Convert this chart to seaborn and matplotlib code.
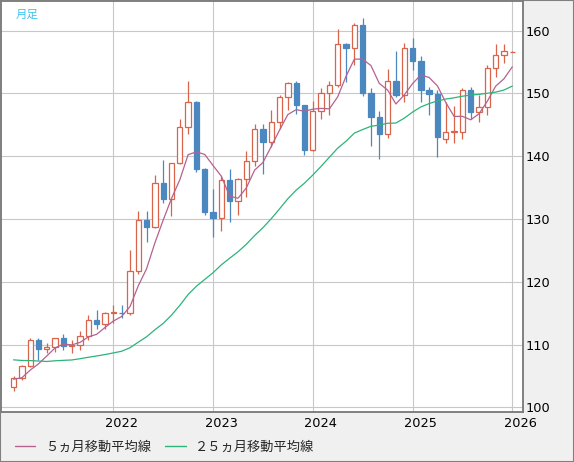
import numpy as np
import pandas as pd
import matplotlib
matplotlib.use("Agg")
import matplotlib.pyplot as plt
import matplotlib.transforms as mtransforms
from matplotlib.lines import Line2D
from matplotlib.patches import Rectangle
import seaborn as sns

# monthly candles, Jan 2021 .. Jan 2026
months = pd.period_range("2021-01", "2026-01", freq="M")

opens = [103.2, 104.7, 106.6, 110.7, 109.3, 109.6, 111.1, 109.7, 110.0, 111.3, 113.95, 113.2,
         115.1, 115.1, 115.0, 121.7, 129.8, 128.7, 135.7, 133.2, 138.9, 144.7, 148.7, 138.0,
         131.1, 130.1, 136.2, 132.8, 136.3, 139.3, 144.3, 142.3, 145.5, 149.4, 151.7, 148.2,
         141.0, 147.2, 150.0, 151.35, 157.8, 157.3, 160.9, 150.0, 146.2, 143.6, 152.0, 149.8,
         157.2, 155.2, 150.6, 149.9, 142.8, 143.9, 143.9, 150.6, 147.0, 147.8, 154.0, 156.05,
         156.6]
highs = [105.0, 106.7, 110.97, 110.96, 110.2, 111.1, 111.7, 110.8, 112.1, 114.7, 115.5, 115.2,
         116.35, 116.3, 125.1, 131.25, 131.35, 137.0, 139.4, 139.0, 145.9, 151.95, 148.8, 138.2,
         134.8, 136.9, 137.9, 136.6, 140.9, 145.1, 145.1, 147.4, 149.7, 151.9, 152.0, 148.2,
         148.8, 150.9, 151.97, 160.2, 158.0, 161.3, 161.95, 150.9, 147.2, 153.9, 156.75, 158.1,
         158.9, 155.9, 151.0, 150.5, 148.65, 148.0, 150.9, 151.0, 149.8, 154.6, 157.9, 157.9,
         156.7]
lows = [102.6, 104.4, 106.4, 107.5, 108.6, 108.8, 109.1, 108.7, 109.1, 110.8, 112.5, 112.5,
        113.5, 114.2, 114.65, 121.3, 126.4, 128.6, 132.5, 130.4, 138.8, 143.5, 137.5, 130.6,
        127.2, 128.1, 129.6, 130.6, 133.5, 138.4, 137.2, 141.5, 144.4, 147.3, 146.7, 140.25,
        140.8, 145.9, 146.5, 151.0, 151.9, 154.5, 149.6, 141.7, 139.6, 142.9, 149.4, 148.6,
        153.7, 148.6, 146.5, 139.9, 142.1, 142.1, 142.7, 146.0, 145.5, 146.5, 152.7, 154.8,
        156.6]
closes = [104.7, 106.6, 110.7, 109.3, 109.6, 111.1, 109.7, 110.0, 111.3, 113.95, 113.2, 115.1,
          115.2, 115.0, 121.7, 129.8, 128.7, 135.7, 133.2, 138.9, 144.7, 148.7, 138.0, 131.1,
          130.1, 136.2, 132.8, 136.3, 139.3, 144.3, 142.3, 145.5, 149.4, 151.7, 148.2, 141.0,
          147.2, 150.0, 151.35, 157.8, 157.3, 160.9, 150.0, 146.2, 143.6, 152.0, 149.8, 157.2,
          155.2, 150.6, 149.9, 143.1, 143.9, 144.0, 150.6, 147.0, 147.8, 154.0, 156.05, 156.7,
          156.65]

ma5 = [104.48, 104.70, 105.92, 106.92, 108.18, 109.46, 110.08, 109.94, 110.34, 111.21, 111.63, 112.71,
       113.73, 114.47, 116.02, 119.34, 122.06, 126.18, 129.82, 133.26, 136.24, 140.24, 140.70, 140.28,
       138.52, 136.82, 133.64, 133.30, 134.94, 137.78, 139.00, 141.54, 144.16, 146.64, 147.42, 147.16,
       147.50, 147.62, 147.55, 149.47, 152.73, 155.47, 155.47, 154.44, 151.60, 150.54, 148.32, 149.76,
       151.56, 152.96, 152.54, 151.20, 148.56, 146.34, 146.36, 145.80, 146.76, 148.76, 151.16, 152.34,
       154.24]
ma25 = [107.56, 107.46, 107.44, 107.37, 107.30, 107.41, 107.48, 107.54, 107.74, 107.97, 108.18, 108.40,
        108.66, 108.93, 109.48, 110.37, 111.23, 112.35, 113.36, 114.68, 116.23, 117.96, 119.29, 120.37,
        121.44, 122.70, 123.75, 124.77, 125.97, 127.36, 128.61, 130.04, 131.61, 133.23, 134.60, 135.71,
        137.00, 138.39, 139.85, 141.29, 142.39, 143.68, 144.25, 144.77, 144.96, 145.25, 145.29, 146.06,
        147.03, 147.85, 148.39, 148.81, 149.11, 149.31, 149.56, 149.75, 149.85, 150.03, 150.21, 150.55,
        151.17]

year_labels = ["2022", "2023", "2024", "2025", "2026"]
y_ticks = [100, 110, 120, 130, 140, 150, 160]

df = pd.DataFrame({"month": months.astype(str), "open": opens, "high": highs,
                   "low": lows, "close": closes, "ma5": ma5, "ma25": ma25})
df["x"] = np.arange(len(df))

red = "#d9644a"
blue = "#4a88bf"
c_ma5 = "#b5628f"
c_ma25 = "#2eb37a"

sns.set_style("white")
plt.rcParams["font.family"] = ["Noto Sans CJK JP", "DejaVu Sans"]

fig = plt.figure(figsize=(5.74, 4.62), dpi=100, facecolor="#f0f0f0")
ax = fig.add_axes([1/574, 50/462, 522/574, 411/462])
ax.set_facecolor("white")

up = df["close"] >= df["open"]
body_lo = np.minimum(df["open"], df["close"])
body_h = np.maximum((df["close"] - df["open"]).abs(), 0.06)

ax.vlines(df["x"][up], df["low"][up], df["high"][up], color=red, lw=0.9, zorder=2)
ax.vlines(df["x"][~up], df["low"][~up], df["high"][~up], color=blue, lw=0.9, zorder=2)
ax.bar(df["x"][up], body_h[up], bottom=body_lo[up], width=0.64,
       facecolor="white", edgecolor=red, lw=0.9, zorder=3)
ax.bar(df["x"][~up], body_h[~up], bottom=body_lo[~up], width=0.64,
       facecolor=blue, edgecolor=blue, lw=0.9, zorder=3)

sns.lineplot(data=df, x="x", y="ma5", ax=ax, color=c_ma5, lw=0.9, legend=False, zorder=4)
sns.lineplot(data=df, x="x", y="ma25", ax=ax, color=c_ma25, lw=0.9, legend=False, zorder=4)

ax.set_xlim(-1.51, 61.29)
ax.set_ylim(99.25, 164.73)
ax.set_xlabel("")
ax.set_ylabel("")

ax.yaxis.tick_right()
ax.set_yticks(y_ticks)
ax.set_yticklabels([str(v) for v in y_ticks], family="DejaVu Sans")
ax.set_xticks([12, 24, 36, 48, 60])
ax.set_xticklabels(year_labels, family="DejaVu Sans")
ax.tick_params(axis="y", length=0, pad=2.2, labelsize=9.3, colors="black")
ax.tick_params(axis="x", length=0, pad=3.5, labelsize=9.3, colors="black")
shift = mtransforms.ScaledTranslation(8/100, 0, fig.dpi_scale_trans)
for lbl in ax.get_xticklabels():
    lbl.set_transform(lbl.get_transform() + shift)

ax.grid(True, color="#c8c8c8", lw=0.8)
ax.set_axisbelow(True)
for side in ["left", "top", "right", "bottom"]:
    ax.spines[side].set_visible(True)
    ax.spines[side].set_color("#777777")
    ax.spines[side].set_linewidth(1.3)

fig.text(16/574, 1 - 14/462, "月足", color="#3cc3ef", fontsize=8.3, va="center", ha="left")

handles = [Line2D([], [], color=c_ma5, lw=1.0), Line2D([], [], color=c_ma25, lw=1.0)]
fig.legend(handles, ["５ヵ月移動平均線", "２５ヵ月移動平均線"], loc="center left",
           bbox_to_anchor=(15/574, 15/462), ncol=2, frameon=False, fontsize=9.5,
           handlelength=1.55, handletextpad=0.7, columnspacing=1.1,
           borderpad=0, borderaxespad=0)

fig.patches.append(Rectangle((0, 0), 1, 1, transform=fig.transFigure, fill=False,
                             edgecolor="#808080", lw=1.5, zorder=10))

fig.savefig("out.png", dpi=100, facecolor=fig.get_facecolor())
